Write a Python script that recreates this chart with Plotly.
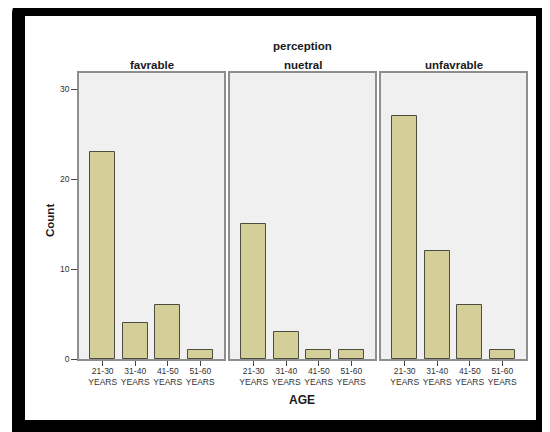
import plotly.graph_objects as go

W, H = 550, 432
OFF = 8  # page body margin of the browser

age_groups = ["21-30<br>YEARS", "31-40<br>YEARS", "41-50<br>YEARS", "51-60<br>YEARS"]
panels = ["favrable", "nuetral", "unfavrable"]
favrable = [23, 4, 6, 1]
nuetral = [15, 3, 1, 1]
unfavrable = [27, 12, 6, 1]
y_ticks = [0, 10, 20, 30]

series = [favrable, nuetral, unfavrable]

def px(x):
    return (x - OFF) / W

def py(y):
    return 1 - (y - OFF) / H

x_domains = [(79, 224), (230, 375), (381, 526)]
y_domain = [py(359), py(73)]

fig = go.Figure()
for i, vals in enumerate(series):
    sfx = "" if i == 0 else str(i + 1)
    fig.add_trace(go.Bar(
        x=list(range(len(age_groups))), y=vals,
        xaxis="x" + sfx, yaxis="y" + sfx,
        width=0.77,
        marker=dict(color="#D4CF99", line=dict(color="#4E4C3E", width=1)),
        showlegend=False, hoverinfo="y",
    ))

font_base = "Liberation Sans, Arial, sans-serif"
layout = dict(
    width=W, height=H,
    margin=dict(l=0, r=0, t=0, b=0, autoexpand=False),
    paper_bgcolor="white",
    plot_bgcolor="#F0F0F0",
    font=dict(family=font_base, size=8, color="#333333"),
    bargap=0,
)
for i, (a, b) in enumerate(x_domains):
    sfx = "" if i == 0 else str(i + 1)
    layout["xaxis" + sfx] = dict(
        domain=[px(a), px(b)], range=[-0.73, 3.73], anchor="y" + sfx,
        tickmode="array", tickvals=list(range(len(age_groups))), ticktext=age_groups,
        ticks="outside", ticklen=5, tickcolor="#444444", tickwidth=1,
        ticklabelstandoff=-2,
        showline=True, mirror=True, linecolor="#8E8E8E", linewidth=1.5,
        showgrid=False, zeroline=False, fixedrange=True,
        tickfont=dict(family=font_base, size=8.5, color="#333333"),
    )
    layout["yaxis" + sfx] = dict(
        domain=y_domain, range=[0, 31.8], anchor="x" + sfx,
        tickmode="array", tickvals=y_ticks,
        ticks="outside" if i == 0 else "", ticklen=6, tickcolor="#444444", tickwidth=1,
        showticklabels=(i == 0),
        showline=True, mirror=True, linecolor="#8E8E8E", linewidth=1.5,
        showgrid=False, zeroline=False, fixedrange=True,
        tickfont=dict(family=font_base, size=8.5, color="#333333"),
    )

# black frame with rounded corners (evenodd hole)
def rr(x0, y0, x1, y1, r):
    return (f"M{px(x0 + r)},{py(y0)} L{px(x1 - r)},{py(y0)} "
            f"Q{px(x1)},{py(y0)} {px(x1)},{py(y0 + r)} L{px(x1)},{py(y1 - r)} "
            f"Q{px(x1)},{py(y1)} {px(x1 - r)},{py(y1)} L{px(x0 + r)},{py(y1)} "
            f"Q{px(x0)},{py(y1)} {px(x0)},{py(y1 - r)} L{px(x0)},{py(y0 + r)} "
            f"Q{px(x0)},{py(y0)} {px(x0 + r)},{py(y0)} Z")

inner = f"M{px(25)},{py(16)} L{px(536)},{py(16)} L{px(536)},{py(420)} L{px(25)},{py(420)} Z"
layout["shapes"] = [dict(
    type="path", xref="paper", yref="paper",
    path=rr(12, 4, 549, 446, 9) + " " + inner,
    fillcolor="black", fillrule="evenodd", line=dict(width=0), layer="above",
)]

ann = []
title_font = dict(family=font_base, size=11.5, color="#1A1A1A")
ann.append(dict(text="<b>perception</b>", x=px(302.5), y=py(46), xref="paper", yref="paper",
                showarrow=False, font=title_font, xanchor="center", yanchor="middle"))
for name, (a, b) in zip(panels, x_domains):
    ann.append(dict(text=f"<b>{name}</b>", x=px((a + b) / 2), y=py(65), xref="paper", yref="paper",
                    showarrow=False, font=title_font, xanchor="center", yanchor="middle"))
ann.append(dict(text="<b>Count</b>", x=px(50), y=py(221), xref="paper", yref="paper",
                showarrow=False, textangle=-90, font=title_font, xanchor="center", yanchor="middle"))
ann.append(dict(text="<b>AGE</b>", x=px(302), y=py(400), xref="paper", yref="paper",
                showarrow=False, font=dict(family=font_base, size=12, color="#1A1A1A"),
                xanchor="center", yanchor="middle"))
layout["annotations"] = ann

fig.update_layout(**layout)
fig.write_html("out.html")
